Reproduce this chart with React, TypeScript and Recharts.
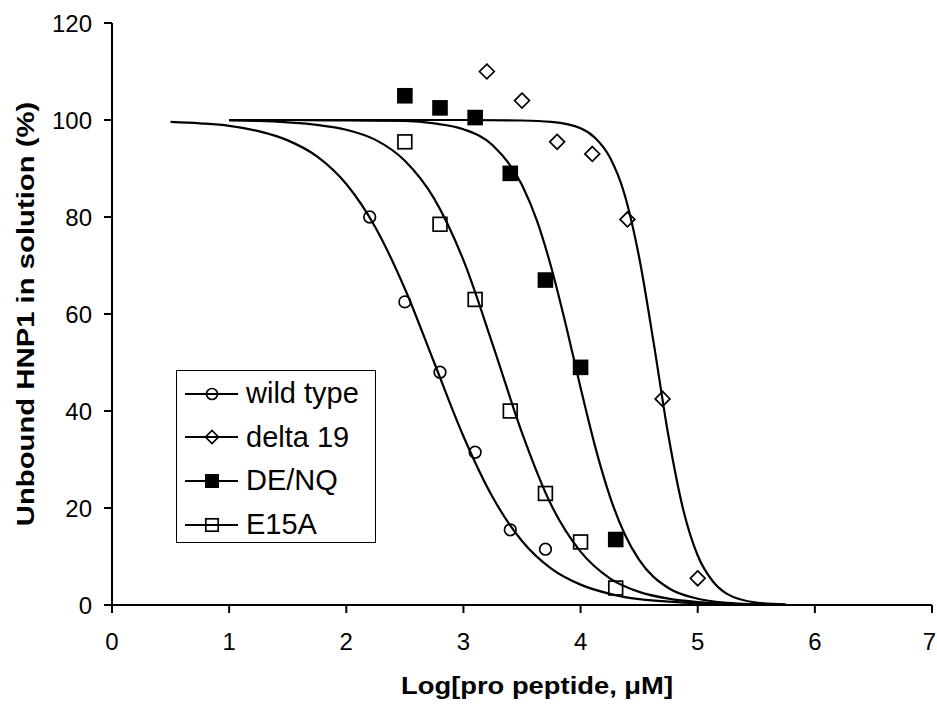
import {
  ComposedChart,
  Line,
  Scatter,
  XAxis,
  YAxis,
  Legend,
} from "recharts";

// ----- Data -----
const xTicks = [0, 1, 2, 3, 4, 5, 6, 7];
const yTicks = [0, 20, 40, 60, 80, 100, 120];

// measured points
const wildX = [2.2, 2.5, 2.8, 3.1, 3.4, 3.7];
const wildY = [80, 62.5, 48, 31.5, 15.5, 11.5];
const deltaX = [3.2, 3.5, 3.8, 4.1, 4.4, 4.7, 5.0];
const deltaY = [110, 104, 95.5, 93, 79.5, 42.5, 5.5];
const denqX = [2.5, 2.8, 3.1, 3.4, 3.7, 4.0, 4.3];
const denqY = [105, 102.5, 100.5, 89, 67, 49, 13.5];
const e15aX = [2.5, 2.8, 3.1, 3.4, 3.7, 4.0, 4.3];
const e15aY = [95.5, 78.5, 63, 40, 23, 13, 3.5];

// fitted curves
const wildFitX = [0.5, 0.75, 1, 1.25, 1.5, 1.75, 2, 2.25, 2.5, 2.75, 3, 3.25, 3.5, 3.75, 4, 4.25, 4.5, 4.75, 5, 5.25, 5.5, 5.75];
const wildFitY = [99.6, 99.3, 98.8, 97.7, 95.8, 92.5, 86.8, 77.8, 65.2, 50, 34.8, 22.2, 13.2, 7.5, 4.2, 2.3, 1.2, 0.7, 0.35, 0.2, 0.1, 0.05];
const e15aFitX = [1, 1.25, 1.5, 1.75, 2, 2.25, 2.5, 2.75, 3, 3.25, 3.5, 3.75, 4, 4.25, 4.5, 4.75, 5, 5.25, 5.5, 5.75];
const e15aFitY = [99.9, 99.8, 99.5, 99.0, 98.0, 95.9, 91.6, 83.8, 71.1, 53.7, 35.5, 20.6, 11.0, 5.5, 2.7, 1.3, 0.6, 0.3, 0.15, 0.05];
const denqFitX = [1, 1.5, 2, 2.5, 2.75, 3, 3.25, 3.5, 3.625, 3.75, 3.875, 4, 4.125, 4.25, 4.375, 4.5, 4.75, 5, 5.25, 5.5, 5.75];
const denqFitY = [100, 100, 99.9, 99.8, 99.3, 98.1, 94.8, 86.6, 79.4, 69.6, 57.7, 44.8, 32.6, 22.4, 14.7, 9.3, 3.5, 1.3, 0.45, 0.16, 0.05];
const deltaFitX = [1, 2, 3, 3.5, 3.75, 4, 4.125, 4.25, 4.375, 4.5, 4.625, 4.75, 4.875, 5, 5.125, 5.25, 5.5, 5.75];
const deltaFitY = [100, 100, 100, 99.9, 99.6, 98.3, 96.3, 92.3, 84.7, 71.7, 53.9, 34.9, 19.8, 10.2, 5.0, 2.3, 0.5, 0.1];

const seriesNames = ["wild type", "delta 19", "DE/NQ", "E15A"];

const FONT = '"Liberation Sans", Arial, Helvetica, sans-serif';

const toPoints = (xs: number[], ys: number[]) => xs.map((x, i) => ({ x, y: ys[i] }));

type Kind = "circle" | "diamond" | "filled" | "open";

function Marker({ kind, cx, cy, s }: { kind: Kind; cx: number; cy: number; s: number }) {
  const sw = 1.7;
  if (kind === "circle")
    return <circle cx={cx} cy={cy} r={s} fill="none" stroke="#000" strokeWidth={sw} />;
  if (kind === "diamond")
    return (
      <polygon
        points={`${cx},${cy - s} ${cx + s},${cy} ${cx},${cy + s} ${cx - s},${cy}`}
        fill="none"
        stroke="#000"
        strokeWidth={sw}
      />
    );
  if (kind === "filled")
    return <rect x={cx - s} y={cy - s} width={2 * s} height={2 * s} fill="#000" />;
  return (
    <rect x={cx - s} y={cy - s} width={2 * s} height={2 * s} fill="none" stroke="#000" strokeWidth={sw} />
  );
}

const series: { name: string; kind: Kind; size: number; legendSize: number; pts: { x: number; y: number }[]; fit: { x: number; y: number }[] }[] = [
  { name: seriesNames[0], kind: "circle", size: 5.8, legendSize: 5.5, pts: toPoints(wildX, wildY), fit: toPoints(wildFitX, wildFitY) },
  { name: seriesNames[1], kind: "diamond", size: 7.4, legendSize: 6.5, pts: toPoints(deltaX, deltaY), fit: toPoints(deltaFitX, deltaFitY) },
  { name: seriesNames[2], kind: "filled", size: 7.8, legendSize: 7, pts: toPoints(denqX, denqY), fit: toPoints(denqFitX, denqFitY) },
  { name: seriesNames[3], kind: "open", size: 6.9, legendSize: 6.2, pts: toPoints(e15aX, e15aY), fit: toPoints(e15aFitX, e15aFitY) },
];

// ----- Legend box -----
function LegendBox() {
  return (
    <div
      style={{
        width: 200,
        height: 173,
        border: "1.6px solid #000",
        boxSizing: "border-box",
        background: "#fff",
        fontFamily: FONT,
        fontSize: 29,
        color: "#000",
        paddingTop: 1,
      }}
    >
      {series.map((s) => (
        <div key={s.name} style={{ height: 43.6, display: "flex", alignItems: "center" }}>
          <svg width={62} height={30} style={{ display: "block", flex: "none" }}>
            <line x1={8} x2={61} y1={15} y2={15} stroke="#000" strokeWidth={1.8} />
            <Marker kind={s.kind} cx={35} cy={15} s={s.legendSize} />
          </svg>
          <span style={{ marginLeft: 7, lineHeight: 1, whiteSpace: "nowrap" }}>{s.name}</span>
        </div>
      ))}
    </div>
  );
}

// x tick label; the last one is nudged so it stays inside the picture
function XTick({ x, y, payload }: any) {
  const last = payload.value === xTicks[xTicks.length - 1];
  return (
    <text
      x={last ? x + 4 : x}
      y={y}
      dy="0.71em"
      textAnchor={last ? "end" : "middle"}
      fontFamily={FONT}
      fontSize={24}
      fill="#000"
    >
      {payload.value}
    </text>
  );
}

// ----- Axis titles (stretched like the original figure) -----
function XTitle() {
  return (
    <text
      transform="translate(537, 694) scale(1.19, 1)"
      textAnchor="middle"
      fontFamily={FONT}
      fontWeight="bold"
      fontSize={23}
      fill="#000"
    >
      Log[pro peptide, μM]
    </text>
  );
}

function YTitle() {
  return (
    <text
      transform="translate(33.5, 314) rotate(-90) scale(1.22, 1)"
      textAnchor="middle"
      fontFamily={FONT}
      fontWeight="bold"
      fontSize={24}
      fill="#000"
    >
      Unbound HNP1 in solution (%)
    </text>
  );
}

export default function App() {
  return (
    <div style={{ position: "absolute", left: 0, top: 0, width: 937, height: 704, background: "#fff" }}>
      <ComposedChart width={937} height={704} margin={{ top: 23, right: 5, left: 0, bottom: 0 }}>
        <XAxis
          type="number"
          dataKey="x"
          domain={[0, 7]}
          ticks={xTicks}
          interval={0}
          height={99}
          tickSize={8}
          tickMargin={20}
          stroke="#000"
          strokeWidth={2}
          tick={<XTick />}
          label={<XTitle />}
        />
        <YAxis
          type="number"
          dataKey="y"
          domain={[0, 120]}
          ticks={yTicks}
          interval={0}
          width={112}
          tickSize={8}
          tickMargin={12}
          stroke="#000"
          strokeWidth={2}
          tick={{ fill: "#000", fontSize: 24, fontFamily: FONT }}
          label={<YTitle />}
        />
        {series.map((s) => (
          <Line
            key={`fit-${s.name}`}
            data={s.fit}
            dataKey="y"
            type="monotone"
            stroke="#000"
            strokeWidth={2.2}
            dot={false}
            activeDot={false}
            legendType="none"
            isAnimationActive={false}
          />
        ))}
        {series.map((s) => (
          <Scatter
            key={`pts-${s.name}`}
            name={s.name}
            data={s.pts}
            dataKey="y"
            isAnimationActive={false}
            shape={(p: any) => <Marker kind={s.kind} cx={p.cx} cy={p.cy} s={s.size} />}
          />
        ))}
        <Legend
          layout="vertical"
          align="center"
          verticalAlign="middle"
          content={() => <LegendBox />}
          wrapperStyle={{ left: 176, top: 370, width: 200, height: 173 }}
        />
      </ComposedChart>
    </div>
  );
}
